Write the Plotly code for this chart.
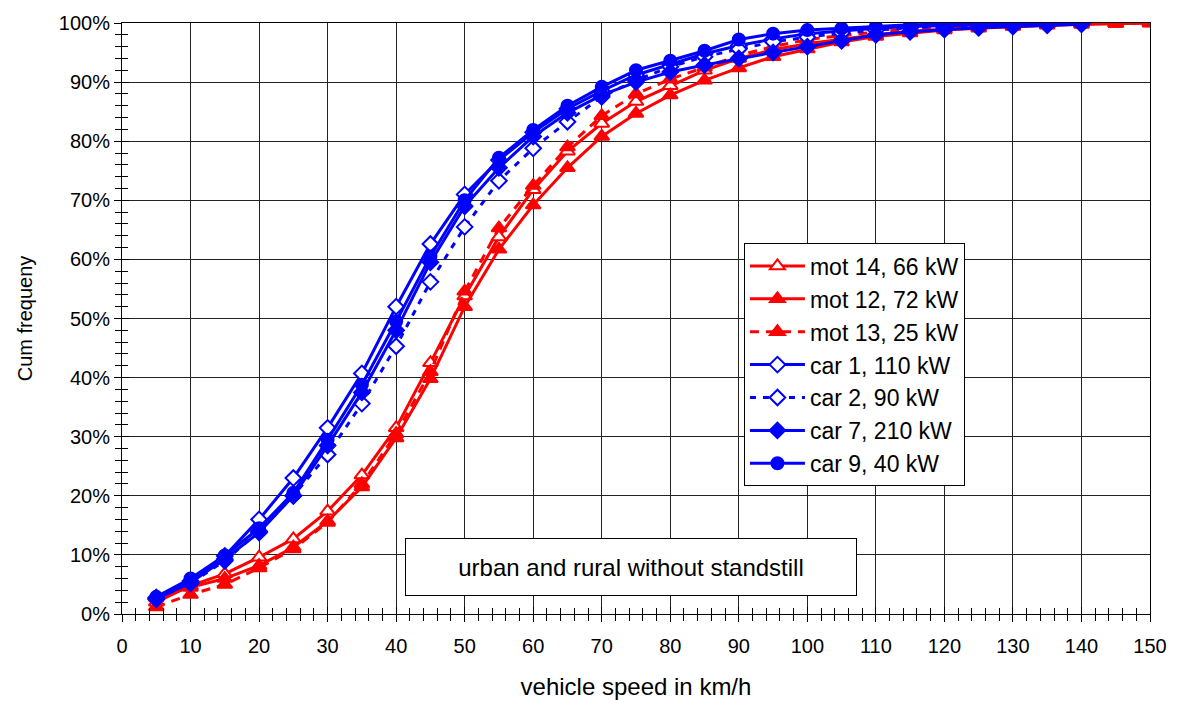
import plotly.graph_objects as go

speed_red = [5, 10, 15, 20, 25, 30, 35, 40, 45, 50, 55, 60, 65, 70, 75, 80, 85, 90, 95, 100,
             105, 110, 115, 120, 125, 130, 135, 140, 145, 150]
speed_blue = [5, 10, 15, 20, 25, 30, 35, 40, 45, 50, 55, 60, 65, 70, 75, 80, 85, 90, 95, 100,
              105, 110, 115, 120, 125, 130, 135, 140]

mot14 = [2.0, 4.8, 6.8, 9.6, 12.7, 17.4, 23.5, 31.5, 42.5, 53.8, 63.8, 71.8, 78.3, 83.0, 86.7, 89.4,
         92.0, 94.0, 95.5, 96.5, 97.3, 98.0, 98.6, 99.0, 99.3, 99.5, 99.7, 99.8, 99.9, 100.0]
mot12 = [2.8, 4.5, 6.0, 8.2, 11.3, 15.7, 21.5, 29.8, 39.8, 52.0, 61.7, 69.2, 75.5, 80.8, 84.7, 87.8,
         90.3, 92.4, 94.3, 95.6, 96.8, 97.7, 98.3, 98.8, 99.1, 99.4, 99.6, 99.8, 99.9, 100.0]
mot13 = [1.2, 3.3, 5.0, 7.8, 11.0, 15.5, 22.0, 30.5, 41.0, 54.6, 65.3, 72.5, 79.0, 84.3, 88.0, 90.5,
         92.5, 94.5, 96.0, 97.2, 97.9, 98.5, 99.0, 99.3, 99.5, 99.7, 99.8, 99.9, 100.0, 100.0]

car1 = [2.8, 5.6, 9.8, 16.0, 23.0, 31.5, 40.7, 52.0, 62.6, 71.0, 76.8, 81.5, 85.5, 88.5, 91.2, 93.0,
        94.8, 96.2, 97.3, 98.2, 98.7, 99.1, 99.4, 99.6, 99.7, 99.8, 99.9, 100.0]
car2 = [2.5, 5.2, 9.0, 14.0, 20.0, 27.0, 35.6, 45.3, 56.2, 65.5, 73.3, 78.8, 83.3, 87.5, 90.3, 92.6,
        94.3, 95.6, 96.8, 97.6, 98.3, 98.8, 99.2, 99.4, 99.6, 99.8, 99.9, 100.0]
car7 = [2.6, 5.3, 9.3, 13.8, 20.0, 28.5, 37.5, 48.0, 59.5, 69.0, 75.5, 80.8, 84.8, 87.8, 90.0, 91.7,
        92.9, 94.0, 95.0, 96.0, 97.0, 98.0, 98.5, 98.9, 99.2, 99.4, 99.6, 99.8]
car9 = [2.9, 6.0, 9.9, 14.5, 20.5, 29.5, 38.8, 49.5, 60.5, 70.0, 77.2, 81.9, 86.0, 89.2, 92.0, 93.6,
        95.3, 97.2, 98.2, 98.8, 99.1, 99.4, 99.7, 99.8, 100.0, 100.0, 100.0, 100.0]

RED = "#FF0000"
BLUE = "#0000FF"
FONT = "Liberation Sans, Arial, sans-serif"

series = [
    ("mot 14, 66 kW", speed_red, mot14, RED, "solid", "triangle-up", "white", 13),
    ("mot 12, 72 kW", speed_red, mot12, RED, "solid", "triangle-up", RED, 13),
    ("mot 13, 25 kW", speed_red, mot13, RED, "9px,7px", "triangle-up", RED, 13),
    ("car 1, 110 kW", speed_blue, car1, BLUE, "solid", "diamond", "white", 12),
    ("car 2, 90 kW", speed_blue, car2, BLUE, "6px,7px", "diamond", "white", 12),
    ("car 7, 210 kW", speed_blue, car7, BLUE, "solid", "diamond", BLUE, 12),
    ("car 9, 40 kW", speed_blue, car9, BLUE, "solid", "circle", BLUE, 12),
]

fig = go.Figure()
for name, xs, ys, col, dash, sym, fill, size in series:
    fig.add_trace(go.Scatter(
        x=xs, y=[v / 100 for v in ys], name=name, mode="lines+markers",
        line=dict(color=col, width=3, dash=dash),
        marker=dict(symbol=sym, size=size, color=fill, line=dict(color=col, width=2)),
    ))

# invisible trace to host overlay axes for inner ticks
fig.add_trace(go.Scatter(x=[0], y=[0], xaxis="x2", yaxis="y2", mode="markers",
                         marker=dict(opacity=0), showlegend=False, hoverinfo="skip"))

fig.add_annotation(
    x=74.3, y=0.08, xref="x", yref="y", text="urban and rural without standstill",
    showarrow=False, font=dict(family=FONT, size=24, color="black"),
    bgcolor="white", bordercolor="black", borderwidth=1, width=442, height=48, borderpad=4,
)

fig.update_layout(
    width=1180, height=709,
    margin=dict(l=122, r=30, t=17, b=95),
    paper_bgcolor="white", plot_bgcolor="white",
    font=dict(family=FONT, size=20, color="black"),
    showlegend=True,
    legend=dict(
        x=0.605, y=0.627, xanchor="left", yanchor="top",
        bgcolor="white", bordercolor="black", borderwidth=1,
        font=dict(family=FONT, size=23, color="black"),
        itemwidth=55, tracegroupgap=0,
    ),
    xaxis=dict(
        range=[0, 150], dtick=10, tick0=0,
        showgrid=True, gridcolor="#222222", gridwidth=1,
        showline=True, linecolor="black", linewidth=1, mirror=True,
        ticks="outside", ticklen=7, tickcolor="black",
        minor=dict(dtick=2, ticks="outside", ticklen=6, tickcolor="black", showgrid=False),
        title=dict(text="vehicle speed in km/h", font=dict(size=24), standoff=22),
        tickfont=dict(size=20), zeroline=False, ticklabelstandoff=7,
    ),
    yaxis=dict(
        range=[0, 1], dtick=0.1, tickformat=".0%",
        showgrid=True, gridcolor="#222222", gridwidth=1,
        showline=True, linecolor="black", linewidth=1, mirror=True,
        ticks="outside", ticklen=7, tickcolor="black",
        minor=dict(dtick=0.02, ticks="outside", ticklen=6, tickcolor="black", showgrid=False),
        title=dict(text="Cum frequeny", font=dict(size=20), standoff=20),
        tickfont=dict(size=20), zeroline=False,
    ),
    xaxis2=dict(
        overlaying="x", matches="x", range=[0, 150], dtick=10, showticklabels=False,
        showgrid=False, zeroline=False, ticks="inside", ticklen=7, tickcolor="black",
        minor=dict(dtick=2, ticks="inside", ticklen=6, tickcolor="black", showgrid=False),
        anchor="y2",
    ),
    yaxis2=dict(
        overlaying="y", matches="y", range=[0, 1], dtick=0.1, showticklabels=False,
        showgrid=False, zeroline=False, ticks="inside", ticklen=7, tickcolor="black",
        minor=dict(dtick=0.02, ticks="inside", ticklen=6, tickcolor="black", showgrid=False),
        anchor="x2",
    ),
)

fig.write_html("out.html")
